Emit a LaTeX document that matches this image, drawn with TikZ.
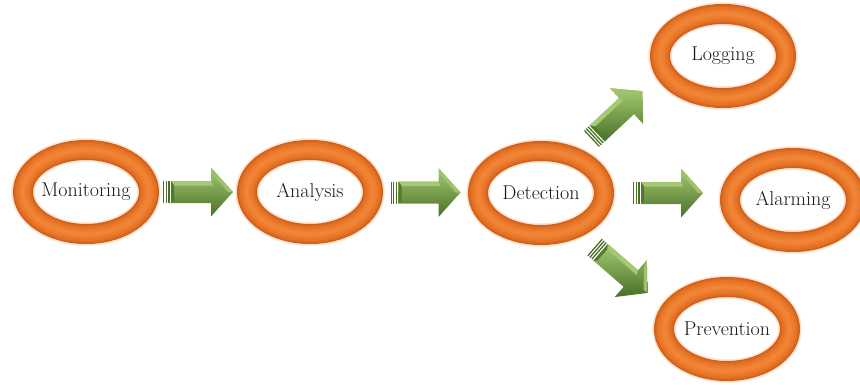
\documentclass[tikz,border=0pt]{standalone}
\usetikzlibrary{calc}

\definecolor{ringglow}{RGB}{248,200,160}
\definecolor{ringA}{RGB}{208,94,26}
\definecolor{ringB}{RGB}{220,106,32}
\definecolor{ringC}{RGB}{230,116,39}
\definecolor{ringD}{RGB}{237,125,46}
\definecolor{ringE}{RGB}{241,133,53}
\definecolor{arrowlight}{RGB}{165,202,115}
\definecolor{arrowmid}{RGB}{116,158,70}
\definecolor{arrowdark}{RGB}{74,112,40}

\tikzset{
  stage/.style={font=\fontsize{15}{18}\selectfont, inner sep=0pt, text=black!90},
  ringpath/.style={line width=#1},
  % orange ring around a stage label, darker towards its edges
  pics/ring/.style={code={
    \draw[line width=17.5pt, ringglow, opacity=.5] (0,0) ellipse [x radius=47.25pt, y radius=31.5pt];
    \draw[line width=15pt, ringA] (0,0) ellipse [x radius=47.25pt, y radius=31.5pt];
    \draw[line width=13pt, ringB] (0,0) ellipse [x radius=47.25pt, y radius=31.5pt];
    \draw[line width=10.5pt, ringC] (0,0) ellipse [x radius=47.25pt, y radius=31.5pt];
    \draw[line width=7pt, ringD] (0,0) ellipse [x radius=47.25pt, y radius=31.5pt];
    \draw[line width=3pt, ringE] (0,0) ellipse [x radius=47.25pt, y radius=31.5pt];
  }},
  % bevelled green block arrow pointing along +x, centred on the origin
  pics/blockarrow/.style={code={
    \foreach \s in {-35,-32.4,-29.8}
      \fill[arrowdark] (\s,-11) rectangle ++(1.3,22);
    \shade[top color=arrowlight, middle color=arrowmid, bottom color=arrowdark]
      (-27,-11) -- (13,-11) -- (13,-24.5) -- (35,0) -- (13,24.5) -- (13,11) -- (-27,11) -- cycle;
    \fill[arrowlight] (-27,-11) -- (13,-11) -- (15,-6.5) -- (-24,-6.5) -- cycle;
    \fill[arrowlight!85!arrowmid] (13,-24.5) -- (35,0) -- (30,0) -- (16,-16.5) -- cycle;
    \fill[arrowdark!80!arrowmid] (-27,-11) -- (-24,-6.5) -- (-24,8.5) -- (-27,11) -- cycle;
  }}
}

\begin{document}
\begin{tikzpicture}[x=0.75pt, y=-0.75pt]
  \useasboundingbox (0,0) rectangle (860,385);

  % stage labels
  \node[stage] (mon) at (86,192) {Monitoring};
  \node[stage] (ana) at (310,192) {Analysis};
  \node[stage] (det) at (541,193) {Detection};
  \node[stage] (log) at (723,56) {Logging};
  \node[stage] (ala) at (793,200) {Alarming};
  \node[stage] (pre) at (727,329) {Prevention};

  % rings
  \foreach \n in {mon,ana,det,log,ala,pre}
    \pic at (\n) {ring};

  % arrows between stages
  \pic at ($(mon)!0.5!(ana)$) {blockarrow};
  \pic at ($(ana)!0.5!(det)$) {blockarrow};
  \pic at ($(det)+(127,0)$) {blockarrow};
  \pic[rotate=43] at ($(det)+(76,-78)$) {blockarrow};
  \pic[rotate=-41] at ($(det)+(80,77)$) {blockarrow};
\end{tikzpicture}
\end{document}
